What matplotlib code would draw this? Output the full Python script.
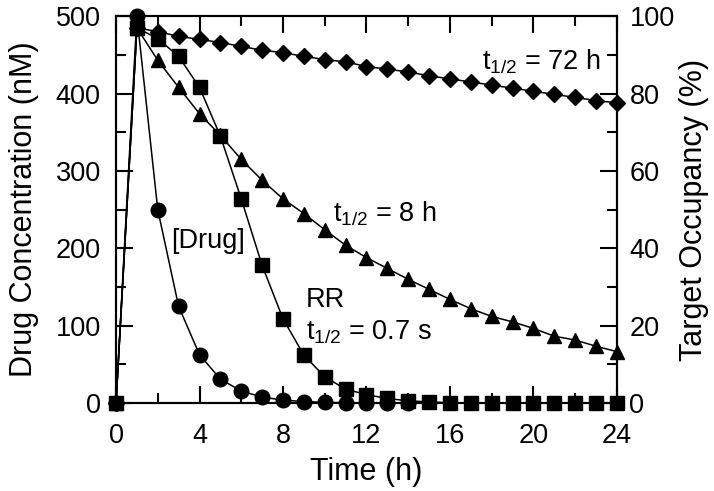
import matplotlib
matplotlib.use('Agg')
import matplotlib.pyplot as plt
from matplotlib.ticker import MultipleLocator

plt.rcParams['font.family'] = ['Liberation Sans', 'DejaVu Sans']
plt.rcParams['mathtext.fontset'] = 'custom'
plt.rcParams['mathtext.rm'] = 'Liberation Sans'
plt.rcParams['mathtext.it'] = 'Liberation Sans'

# drug concentration (nM), left axis
t_drug = [0, 1, 2, 3, 4, 5, 6, 7, 8, 9, 10, 11, 12, 13, 14]
drug = [0, 500, 250, 125, 62.5, 31, 15.6, 7.8, 3.9, 2, 1, 0.5, 0.3, 0.1, 0.1]

# target occupancy (%), right axis
t_occ = list(range(25))
occ_rr = [0, 97, 94.2, 89.6, 81.6, 69, 52.8, 35.6, 21.8, 12.4, 6.8, 3.6, 2.2,
          1.2, 0.6, 0.3, 0.1, 0, 0, 0, 0, 0, 0, 0, 0]
occ_8h = [0, 97, 88.6, 81.6, 74.8, 69.2, 63, 57.6, 52.8, 49, 44.8, 40.8, 37.6,
          34.8, 32, 29.4, 26.8, 24.4, 22.4, 21, 19.3, 17.3, 16.3, 14.7, 13.3]
occ_72h = [0, 97, 96, 94.8, 94, 93.2, 92.2, 91.2, 90.6, 89.6, 88.8, 88.2, 87,
           86.3, 85.6, 84.6, 83.8, 83, 82.2, 81.4, 80.6, 79.8, 79, 78.2, 77.6]

fig = plt.figure(figsize=(7.14, 4.91), dpi=100)
ax = fig.add_axes([0.1625, 0.179, 0.7015, 0.788])
ax2 = ax.twinx()

lw = 1.1
ax.plot(t_drug, drug, color='black', lw=lw, marker='o', ms=10.5, clip_on=False)
ax2.plot(t_occ, occ_72h, color='black', lw=lw, marker='D', ms=8, clip_on=False)
ax2.plot(t_occ, occ_8h, color='black', lw=lw, marker='^', ms=10.5, clip_on=False)
ax2.plot(t_occ, occ_rr, color='black', lw=lw, marker='s', ms=9.5, clip_on=False)

ax.set_xlim(0, 24)
ax.set_ylim(0, 500)
ax2.set_ylim(0, 100)

ax.xaxis.set_major_locator(MultipleLocator(4))
ax.xaxis.set_minor_locator(MultipleLocator(2))
ax.yaxis.set_major_locator(MultipleLocator(100))
ax.yaxis.set_minor_locator(MultipleLocator(50))
ax2.yaxis.set_major_locator(MultipleLocator(20))
ax2.yaxis.set_minor_locator(MultipleLocator(10))

ax.tick_params(which='both', direction='in', top=True, right=False, width=1.5, labelsize=19.5)
ax.tick_params(axis='x', pad=14)
ax.tick_params(axis='y', pad=11)
ax.tick_params(which='major', length=12)
ax.tick_params(which='minor', length=7)
ax2.tick_params(which='both', direction='in', width=1.5, labelsize=19.5, pad=9)
ax2.tick_params(which='major', length=12)
ax2.tick_params(which='minor', length=7)
for a in (ax, ax2):
    for s in a.spines.values():
        s.set_linewidth(1.5)

ax.set_xlabel('Time (h)', fontsize=22, labelpad=6)
ax.set_ylabel('Drug Concentration (nM)', fontsize=22, labelpad=12)
ax2.set_ylabel('Target Occupancy (%)', fontsize=22, labelpad=3)

fs = 19.5
ax.text(2.65, 210, '[Drug]', fontsize=fs, ha='left', va='center')
ax.text(9.1, 133, 'RR', fontsize=fs, ha='left', va='center')
ax.text(9.1, 92, r'$\mathregular{t_{1/2}}$ = 0.7 s', fontsize=fs, ha='left', va='center')
ax.text(10.4, 245, r'$\mathregular{t_{1/2}}$ = 8 h', fontsize=fs, ha='left', va='center')
ax.text(17.55, 441, r'$\mathregular{t_{1/2}}$ = 72 h', fontsize=fs, ha='left', va='center')

fig.savefig('out.png', dpi=100)
